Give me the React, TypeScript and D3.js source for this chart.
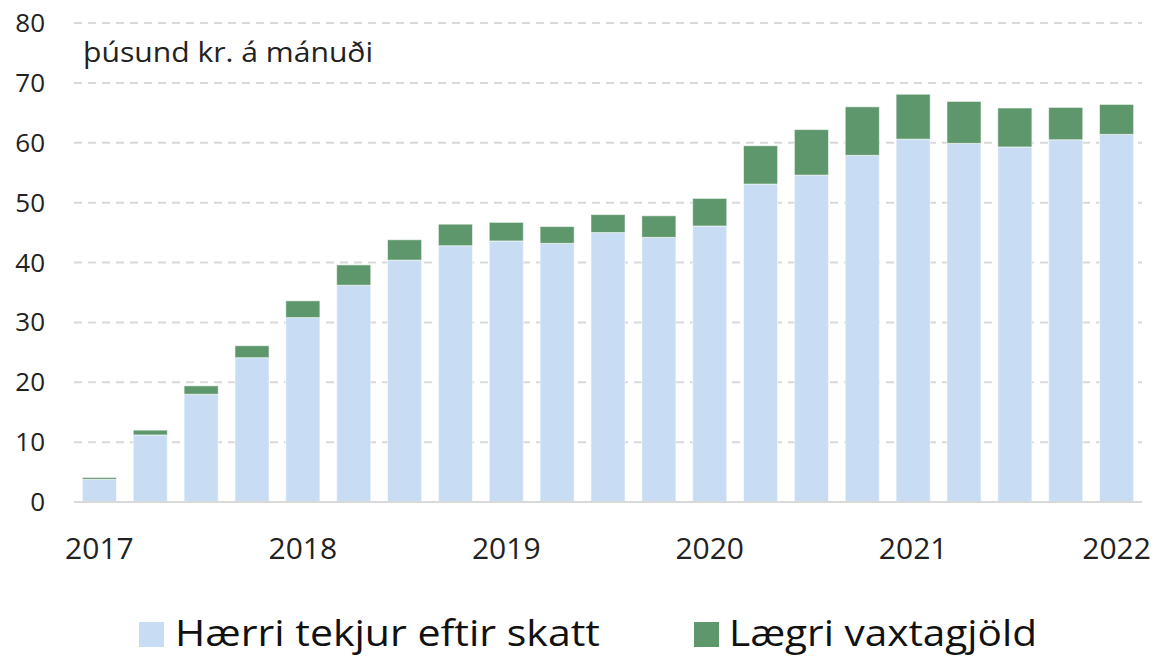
import * as React from 'react';
import * as d3 from 'd3';

// Quarters 2017Q1 - 2022Q1
const quarters = [
  '2017Q1', '2017Q2', '2017Q3', '2017Q4',
  '2018Q1', '2018Q2', '2018Q3', '2018Q4',
  '2019Q1', '2019Q2', '2019Q3', '2019Q4',
  '2020Q1', '2020Q2', '2020Q3', '2020Q4',
  '2021Q1', '2021Q2', '2021Q3', '2021Q4',
  '2022Q1',
];

// Hærri tekjur eftir skatt
const higherIncome = [
  3.8, 11.2, 18.0, 24.1, 30.8, 36.2, 40.4, 42.8, 43.6, 43.2, 45.0,
  44.2, 46.1, 53.1, 54.6, 57.9, 60.6, 59.9, 59.3, 60.5, 61.4,
];

// Lægri vaxtagjöld
const lowerInterest = [
  0.3, 0.8, 1.4, 2.0, 2.8, 3.4, 3.4, 3.6, 3.1, 2.8, 3.0,
  3.6, 4.6, 6.4, 7.6, 8.1, 7.5, 7.0, 6.5, 5.4, 5.0,
];

const yTicks = [0, 10, 20, 30, 40, 50, 60, 70, 80];
const seriesNames = ['Hærri tekjur eftir skatt', 'Lægri vaxtagjöld'];
const colors = ['#c8ddf4', '#5e976b'];

const W = 1155;
const H = 656;
const plot = { left: 74, right: 1142, top: 23, bottom: 502 };
const font = "'Open Sans', 'Noto Sans', sans-serif";

export default function App() {
  const rows = quarters.map((q, i) => ({ q, a: higherIncome[i], b: lowerInterest[i] }));
  const stacked = d3.stack<any>().keys(['a', 'b'])(rows);

  const x = d3.scaleBand<string>()
    .domain(quarters)
    .range([plot.left, plot.right])
    .paddingInner(0.33)
    .paddingOuter(0.165);

  const y = d3.scaleLinear().domain([0, 80]).range([plot.bottom, plot.top]);

  return (
    <svg width={W} height={H} style={{ position: 'absolute', left: 0, top: 0 }}
      fontFamily={font}>
      <rect width={W} height={H} fill="#fff" />
      {/* gridlines */}
      {yTicks.filter(t => t > 0).map(t => (
        <line key={t} x1={plot.left} x2={plot.right} y1={y(t)} y2={y(t)}
          stroke="#d9d9d9" strokeWidth={2} strokeDasharray="8,6" />
      ))}
      {/* bars */}
      {stacked.map((s, si) => (
        <g key={si} fill={colors[si]}>
          {s.map((d, i) => (
            <rect key={i} x={x(quarters[i])} width={x.bandwidth()}
              y={y(d[1])} height={y(d[0]) - y(d[1])}
              stroke="rgba(255,255,255,0.55)" strokeWidth={1} />
          ))}
        </g>
      ))}
      {/* baseline */}
      <line x1={plot.left} x2={plot.right} y1={y(0)} y2={y(0)} stroke="#d9d9d9" strokeWidth={2} />
      {/* y tick labels */}
      {yTicks.map(t => (
        <text key={t} x={45} y={y(t) + 9} textAnchor="end" fontSize={26} fill="#222">{t}</text>
      ))}
      <text x={83} y={62} fontSize={27} fill="#222" textLength={290}
        lengthAdjust="spacingAndGlyphs">þúsund kr. á mánuði</text>
      {/* x labels: year at first quarter */}
      {quarters.filter(q => q.endsWith('Q1')).map(q => (
        <text key={q} x={x(q)! + x.bandwidth() / 2} y={559} textAnchor="middle"
          fontSize={30} fill="#222">{q.slice(0, 4)}</text>
      ))}
      {/* legend */}
      <rect x={139} y={622} width={25} height={25} fill={colors[0]} />
      <text x={175} y={646} fontSize={37} fill="#111" textLength={425}
        lengthAdjust="spacingAndGlyphs">{seriesNames[0]}</text>
      <rect x={694} y={622} width={25} height={25} fill={colors[1]} />
      <text x={729} y={646} fontSize={37} fill="#111" textLength={308}
        lengthAdjust="spacingAndGlyphs">{seriesNames[1]}</text>
    </svg>
  );
}
